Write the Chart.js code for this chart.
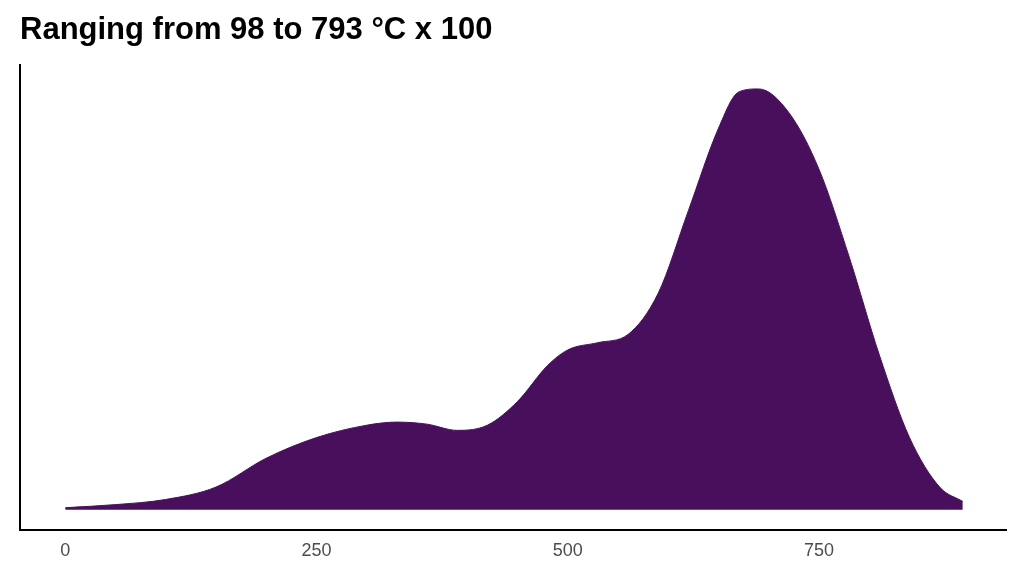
<!DOCTYPE html>
<html><head><script src="https://cdn.jsdelivr.net/npm/chart.js@4"></script>
<style>body{margin:0;background:#fff}#w{width:1024px;height:576px}</style></head>
<body><div id="w"><canvas id="c"></canvas></div>
<script>
const xs=[0,50,100,150,200,250,300,330,360,390,420,450,480,500,530,560,590,620,650,670,690,720,750,780,810,840,870,893];
const dens=[2,5,10,22,50,70,82,85,83,77,82,105,140,155,162,170,210,290,370,405,408,385,330,245,150,70,22,8];
const xTicks=[0,250,500,750];
const title='Ranging from 98 to 793 °C x 100';
new Chart(document.getElementById('c'),{type:'line',
data:{datasets:[{data:xs.map((x,i)=>({x,y:dens[i]})),fill:'origin',backgroundColor:'#48105c',borderColor:'#48105c',borderWidth:1,pointRadius:0,cubicInterpolationMode:'monotone'}]},
options:{responsive:true,maintainAspectRatio:false,animation:false,
layout:{padding:{left:20,right:18,top:6,bottom:10}},
plugins:{legend:{display:false},tooltip:{enabled:false},
title:{display:true,text:title,align:'start',color:'#000',font:{family:'Liberation Sans',size:31},padding:{top:6,bottom:16}}},
scales:{x:{type:'linear',min:-45,max:936,afterBuildTicks:a=>{a.ticks=xTicks.map(v=>({value:v}))},
grid:{display:false,drawTicks:true,tickLength:6,tickColor:'#333'},border:{display:true,color:'#000',width:2},
ticks:{color:'#4d4d4d',font:{family:'Liberation Sans',size:18},padding:4}},
y:{min:-20,max:431,ticks:{display:false},grid:{display:false,drawTicks:false},border:{display:true,color:'#000',width:2}}}}});
</script></body></html>
